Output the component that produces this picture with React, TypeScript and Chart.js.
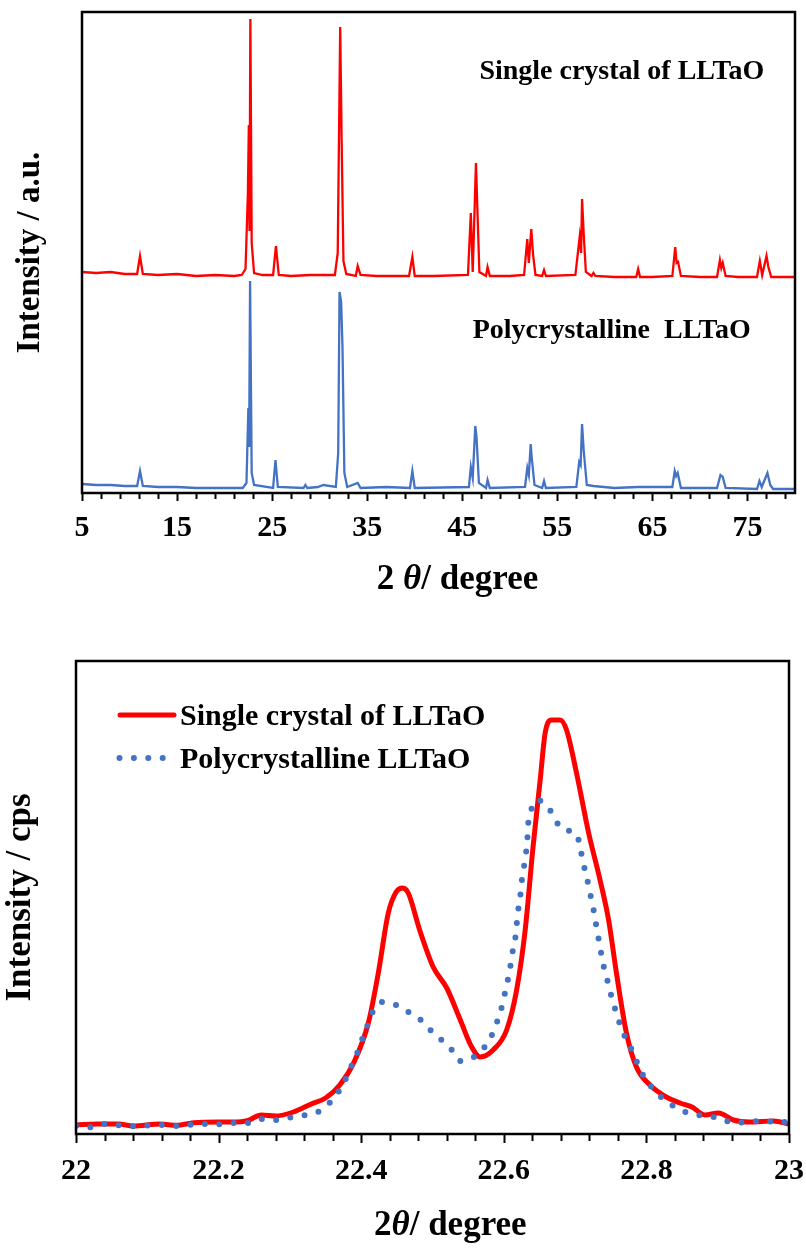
import React, { useEffect, useRef } from "react";
import { Chart, registerables } from "chart.js";
Chart.register(...registerables);

const FONT = "'Times New Roman', 'Liberation Serif', serif";

// ---------- Top chart: full-range XRD patterns (2θ, intensity a.u.) ----------
const singleCrystalPattern: [number, number][] = [
  [5, 221], [6.5, 220], [8, 221], [9.5, 219], [10.8, 219], [11.1, 237], [11.4, 219],
  [13, 218], [15, 219], [17, 217], [19, 218], [21, 217], [21.8, 218], [22.2, 224],
  [22.45, 300], [22.55, 368], [22.62, 262], [22.71, 474], [22.85, 250], [23.1, 220],
  [24, 218], [25.1, 218], [25.4, 247], [25.7, 218], [27, 217], [29, 218], [31.6, 218],
  [31.9, 240], [32.16, 466], [32.3, 360], [32.5, 232], [32.8, 219], [33.8, 217], [34.0, 227],
  [34.3, 218], [36, 217], [39.4, 217], [39.75, 236], [40.0, 217], [42, 217], [45.6, 218],
  [45.9, 280], [46.1, 221], [46.44, 330], [46.6, 281], [46.8, 221], [47.5, 217], [47.66, 226],
  [47.9, 217], [50, 217], [51.5, 218], [51.84, 254], [52.0, 230], [52.26, 264], [52.45, 238],
  [52.7, 218], [53.4, 217], [53.6, 223], [53.8, 217], [56.9, 218], [57.35, 256], [57.5, 240],
  [57.6, 294], [57.77, 260], [58.0, 221], [58.6, 217], [58.8, 220], [59.0, 217], [61, 216],
  [63.3, 216], [63.5, 224], [63.7, 216], [65, 216], [67.1, 217], [67.4, 246], [67.55, 230],
  [67.7, 231], [68.0, 217], [70, 216], [71.8, 216], [72.1, 233], [72.25, 225], [72.4, 230],
  [72.7, 217], [74, 216], [76.0, 216], [76.3, 232], [76.55, 218], [77.0, 237], [77.2, 226],
  [77.5, 216], [79, 216], [80, 216],
];

const polycrystallinePattern: [number, number][] = [
  [5, 9], [6.5, 8], [8, 8], [9.5, 7], [10.8, 7], [11.1, 22], [11.4, 7], [13, 6], [15, 6],
  [17, 5], [19, 5], [21.9, 5], [22.3, 10], [22.5, 85], [22.58, 46], [22.68, 212], [22.85, 20],
  [23.1, 8], [25.1, 5], [25.35, 33], [25.6, 6], [28.3, 5], [28.5, 8], [28.7, 5], [29.8, 6],
  [30.4, 8], [31.7, 6], [31.95, 40], [32.09, 201], [32.26, 191], [32.4, 146], [32.6, 20],
  [32.9, 6], [34.0, 10], [34.3, 5], [37.0, 6], [39.5, 5], [39.75, 22], [40.0, 5], [45.7, 6],
  [45.9, 26], [46.1, 15], [46.37, 67], [46.5, 56], [46.75, 10], [47.5, 5], [47.66, 13],
  [47.9, 5], [51.6, 6], [51.84, 25], [52.0, 18], [52.2, 49], [52.3, 36], [52.6, 8], [53.4, 5],
  [53.6, 12], [53.8, 5], [57.0, 6], [57.3, 31], [57.45, 28], [57.6, 69], [57.77, 43], [58.1, 8],
  [58.8, 7], [61, 5], [63.5, 6], [67.1, 6], [67.35, 22], [67.5, 17], [67.66, 20], [68.0, 5],
  [71.8, 5], [72.16, 18], [72.4, 16], [72.7, 5], [76.0, 4], [76.26, 12], [76.5, 6], [77.1, 20],
  [77.4, 8], [77.7, 4], [80, 4],
];

const topTickLabels = [5, 15, 25, 35, 45, 55, 65, 75];
const topMinorStep = 2;
const topRange = [5, 80];

// ---------- Bottom chart: zoom of the 22–23° region (2θ, intensity cps) ----------
const singleCrystalZoom: [number, number][] = [
  [22.0, 9], [22.03, 10], [22.06, 10], [22.08, 8], [22.118, 10], [22.141, 8.7], [22.165, 11.3],
  [22.2, 12], [22.22, 12], [22.24, 13.3], [22.26, 19], [22.28, 18], [22.305, 22], [22.33, 30],
  [22.35, 36], [22.37, 49], [22.39, 72], [22.41, 111], [22.424, 161], [22.438, 221],
  [22.449, 242], [22.458, 246], [22.466, 241], [22.482, 204], [22.501, 167], [22.52, 146],
  [22.539, 114], [22.555, 87], [22.567, 77], [22.585, 84], [22.604, 104], [22.618, 144],
  [22.63, 204], [22.641, 287], [22.651, 354], [22.658, 401], [22.667, 414], [22.679, 414],
  [22.688, 404], [22.702, 361], [22.719, 301], [22.735, 254], [22.747, 214], [22.758, 161],
  [22.772, 101], [22.786, 67], [22.805, 49], [22.828, 37], [22.847, 31], [22.864, 27],
  [22.882, 19], [22.901, 21], [22.922, 14], [22.945, 12], [22.978, 13], [23.0, 10],
];

const polycrystallineZoom: [number, number][] = [
  [22.0, 8], [22.022, 6.7], [22.042, 10], [22.06, 8.7], [22.08, 7.7], [22.1, 8.5], [22.12, 9],
  [22.142, 8], [22.162, 9.3], [22.18, 10], [22.2, 9.7], [22.223, 11], [22.242, 11],
  [22.262, 15], [22.282, 14], [22.302, 16.7], [22.322, 19], [22.342, 23], [22.357, 32],
  [22.369, 43], [22.379, 56], [22.387, 69], [22.395, 82], [22.402, 96], [22.409, 109],
  [22.416, 122], [22.429, 132], [22.449, 129], [22.466, 122], [22.482, 115], [22.497, 104],
  [22.511, 95], [22.526, 85], [22.539, 73], [22.556, 76], [22.572, 86], [22.582, 97],
  [22.59, 111], [22.596, 124], [22.601, 139], [22.605, 152], [22.609, 167], [22.612, 181],
  [22.616, 195], [22.618, 209], [22.62, 223], [22.623, 237], [22.625, 252], [22.628, 266],
  [22.631, 280], [22.633, 294], [22.634, 308], [22.638, 323], [22.646, 334], [22.663, 326],
  [22.672, 314], [22.685, 304], [22.702, 300], [22.707, 287], [22.711, 272], [22.716, 258],
  [22.72, 244], [22.724, 231], [22.728, 216], [22.731, 202], [22.735, 188], [22.738, 174],
  [22.743, 160], [22.748, 146], [22.753, 132], [22.759, 119], [22.765, 105], [22.774, 92],
  [22.783, 79], [22.79, 66], [22.8, 54], [22.813, 42], [22.828, 33], [22.845, 25],
  [22.864, 20], [22.884, 18], [22.903, 16], [22.923, 11], [22.943, 12], [22.963, 13],
  [22.983, 12], [23.0, 12],
];

const bottomTickLabels = [22, 22.2, 22.4, 22.6, 22.8, 23];
const bottomMinorStep = 0.04;
const bottomRange = [22, 23];

const SERIES_NAMES = ["Single crystal of LLTaO", "Polycrystalline LLTaO"];
const RED = "#FF0000";
const BLUE = "#4472C4";

// ---------- helpers ----------
const isMajor = (majors: number[], v: number) => majors.some((m) => Math.abs(m - v) < 1e-6);

function buildTicks(range: number[], step: number) {
  const out: { value: number }[] = [];
  const n = Math.round((range[1] - range[0]) / step);
  for (let i = 0; i <= n; i++) {
    const v = Math.round((range[0] + i * step) * 1000) / 1000;
    if (v <= range[1] + 1e-9) out.push({ value: v });
  }
  return out;
}

type Seg = { text: string; italic?: boolean };
function drawRich(ctx: CanvasRenderingContext2D, segs: Seg[], cx: number, cy: number, size: number) {
  const fonts = segs.map((s) => `${s.italic ? "italic " : ""}bold ${size}px ${FONT}`);
  const widths = segs.map((s, i) => {
    ctx.font = fonts[i];
    return ctx.measureText(s.text).width;
  });
  const total = widths.reduce((a, b) => a + b, 0);
  let x = cx - total / 2;
  ctx.fillStyle = "#000";
  ctx.textAlign = "left";
  ctx.textBaseline = "middle";
  segs.forEach((s, i) => {
    ctx.font = fonts[i];
    ctx.fillText(s.text, x, cy);
    x += widths[i];
  });
}

const makeFramePlugin = (
  majors: number[],
  majorLen: number,
  minorLen: number,
  titleSegs: Seg[],
  titleValue: number,
  titleY: number,
  titleSize: number
) => ({
  id: "frameTicks",
  afterDraw(chart: any) {
    const { ctx, chartArea: a, scales } = chart;
    const xs = scales.x;
    ctx.save();
    ctx.strokeStyle = "#000";
    ctx.lineWidth = 2.5;
    ctx.strokeRect(a.left, a.top, a.right - a.left, a.bottom - a.top);
    ctx.lineWidth = 2;
    xs.ticks.forEach((t: any) => {
      const px = Math.round(xs.getPixelForValue(t.value)) + 0.5;
      const len = isMajor(majors, t.value) ? majorLen : minorLen;
      ctx.beginPath();
      ctx.moveTo(px, a.bottom);
      ctx.lineTo(px, a.bottom + len);
      ctx.stroke();
    });
    drawRich(ctx, titleSegs, xs.getPixelForValue(titleValue), titleY, titleSize);
    ctx.restore();
  },
});

const toPoints = (arr: [number, number][]) => arr.map(([x, y]) => ({ x, y }));

// ---------- Top chart ----------
const TOP_H = 610;
const topAnnotations = [
  { text: SERIES_NAMES[0], x: 46.8, y: 421 },
  { text: "Polycrystalline  LLTaO", x: 46.1, y: 162 },
];

function TopChart() {
  const ref = useRef<HTMLCanvasElement>(null);
  useEffect(() => {
    if (!ref.current) return;
    const annot = {
      id: "annot",
      afterDraw(chart: any) {
        const { ctx, scales } = chart;
        ctx.save();
        ctx.fillStyle = "#000";
        ctx.font = `bold 28px ${FONT}`;
        ctx.textAlign = "left";
        ctx.textBaseline = "middle";
        topAnnotations.forEach((a) => {
          ctx.fillText(a.text, scales.x.getPixelForValue(a.x), scales.y.getPixelForValue(a.y));
        });
        ctx.restore();
      },
    };
    const chart = new Chart(ref.current, {
      type: "line",
      data: {
        datasets: [
          {
            label: SERIES_NAMES[0],
            data: toPoints(singleCrystalPattern),
            borderColor: RED,
            borderWidth: 2.3,
            pointRadius: 0,
            tension: 0,
          },
          {
            label: SERIES_NAMES[1],
            data: toPoints(polycrystallinePattern),
            borderColor: BLUE,
            borderWidth: 2.3,
            pointRadius: 0,
            tension: 0,
          },
        ],
      },
      options: {
        animation: false,
        responsive: false,
        maintainAspectRatio: false,
        layout: { padding: { top: 12, right: 11, left: 0, bottom: 0 } },
        plugins: { legend: { display: false }, tooltip: { enabled: false } },
        scales: {
          x: {
            type: "linear",
            min: topRange[0],
            max: topRange[1],
            afterBuildTicks: (s: any) => {
              s.ticks = buildTicks(topRange, topMinorStep);
            },
            afterFit: (s: any) => {
              s.height = TOP_H - 493;
              s.paddingLeft = 0;
              s.paddingRight = 0;
            },
            ticks: {
              autoSkip: false,
              maxRotation: 0,
              padding: 17,
              color: "#000",
              font: { family: FONT, size: 30, weight: "bold" },
              callback: (v: any) => (isMajor(topTickLabels, Number(v)) ? String(v) : ""),
            },
            grid: { display: false, drawTicks: false },
            border: { display: false },
          },
          y: {
            min: 0,
            max: 481,
            afterFit: (s: any) => {
              s.width = 82;
            },
            ticks: { display: false },
            grid: { display: false, drawTicks: false },
            border: { display: false },
            title: {
              display: true,
              text: "Intensity / a.u.",
              color: "#000",
              font: { family: FONT, size: 33, weight: "bold" },
              padding: { top: 11, bottom: 0 },
            },
          },
        },
      } as any,
      plugins: [
        makeFramePlugin(topTickLabels, 8, 6, [{ text: "2 " }, { text: "θ", italic: true }, { text: "/ degree" }], 44.5, 580, 35),
        annot,
      ],
    });
    return () => chart.destroy();
  }, []);
  return <canvas ref={ref} width={806} height={TOP_H} style={{ display: "block", width: 806, height: TOP_H }} />;
}

// ---------- Bottom chart ----------
const BOT_H = 640;
function BottomChart() {
  const ref = useRef<HTMLCanvasElement>(null);
  useEffect(() => {
    if (!ref.current) return;
    const legend = {
      id: "customLegend",
      afterDraw(chart: any) {
        const { ctx } = chart;
        const ds = chart.data.datasets;
        const rows = [
          { y: 105, i: 0 },
          { y: 148, i: 1 },
        ];
        ctx.save();
        rows.forEach(({ y, i }) => {
          const d = ds[i];
          ctx.beginPath();
          ctx.strokeStyle = d.borderColor;
          ctx.lineWidth = d.borderWidth;
          ctx.lineCap = "round";
          ctx.setLineDash(d.borderDash || []);
          if (i === 0) {
            ctx.moveTo(120, y);
            ctx.lineTo(174, y);
          } else {
            ctx.moveTo(119.5, y);
            ctx.lineTo(163, y);
          }
          ctx.stroke();
          ctx.setLineDash([]);
          ctx.fillStyle = "#000";
          ctx.font = `bold 30px ${FONT}`;
          ctx.textAlign = "left";
          ctx.textBaseline = "middle";
          ctx.fillText(d.label, 180, y + 2);
        });
        ctx.restore();
      },
    };
    const chart = new Chart(ref.current, {
      type: "line",
      data: {
        datasets: [
          {
            label: SERIES_NAMES[0],
            data: toPoints(singleCrystalZoom),
            borderColor: RED,
            borderWidth: 5,
            pointRadius: 0,
            cubicInterpolationMode: "monotone",
            order: 2,
          },
          {
            label: SERIES_NAMES[1],
            data: toPoints(polycrystallineZoom),
            borderColor: BLUE,
            borderWidth: 6,
            borderDash: [0, 14.4],
            borderCapStyle: "round",
            pointRadius: 0,
            cubicInterpolationMode: "monotone",
            order: 1,
          },
        ],
      },
      options: {
        animation: false,
        responsive: false,
        maintainAspectRatio: false,
        layout: { padding: { top: 51, right: 17, left: 0, bottom: 0 } },
        plugins: { legend: { display: false }, tooltip: { enabled: false } },
        scales: {
          x: {
            type: "linear",
            min: bottomRange[0],
            max: bottomRange[1],
            afterBuildTicks: (s: any) => {
              s.ticks = buildTicks(bottomRange, bottomMinorStep);
            },
            afterFit: (s: any) => {
              s.height = BOT_H - 524;
              s.paddingLeft = 0;
              s.paddingRight = 0;
            },
            ticks: {
              autoSkip: false,
              maxRotation: 0,
              padding: 19,
              color: "#000",
              font: { family: FONT, size: 30, weight: "bold" },
              callback: (v: any) => (isMajor(bottomTickLabels, Number(v)) ? String(Number(v)) : ""),
            },
            grid: { display: false, drawTicks: false },
            border: { display: false },
          },
          y: {
            min: 0,
            max: 473,
            afterFit: (s: any) => {
              s.width = 76;
            },
            ticks: { display: false },
            grid: { display: false, drawTicks: false },
            border: { display: false },
            title: {
              display: true,
              text: "Intensity / cps",
              color: "#000",
              font: { family: FONT, size: 35, weight: "bold" },
              padding: { top: 0, bottom: 0 },
            },
          },
        },
      } as any,
      plugins: [
        makeFramePlugin(bottomTickLabels, 9, 7, [{ text: "2" }, { text: "θ", italic: true }, { text: "/ degree" }], 22.525, 616, 35),
        legend,
      ],
    });
    return () => chart.destroy();
  }, []);
  return <canvas ref={ref} width={806} height={BOT_H} style={{ display: "block", width: 806, height: BOT_H }} />;
}

export default function App() {
  return (
    <div style={{ position: "absolute", left: 0, top: 0, width: 806, height: 1250, background: "#fff" }}>
      <TopChart />
      <BottomChart />
    </div>
  );
}
